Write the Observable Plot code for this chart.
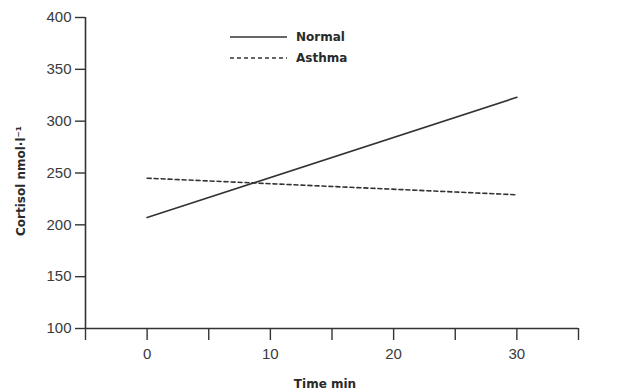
<!DOCTYPE html>
<html>
<head>
<meta charset="utf-8">
<script src="https://cdn.jsdelivr.net/npm/d3@7"></script>
<script src="https://cdn.jsdelivr.net/npm/@observablehq/plot@0.6"></script>
<style>
  html, body { margin: 0; padding: 0; background: #fff; }
  #wrap { position: relative; width: 617px; height: 392px; }
  #legend { position: absolute; left: 230px; top: 26px; font: bold 12px "DejaVu Sans", sans-serif; color: #2a2a2a; }
  #legend .row { display: flex; align-items: center; height: 21px; }
  #legend svg { margin-right: 9px; }
</style>
</head>
<body>
<div id="wrap"></div>
<script>
// Data
const times = [0, 30];
const normal = [207, 323];
const asthma = [245, 229];
const series = ["Normal", "Asthma"];
const xTicks = [-5, 0, 5, 10, 15, 20, 25, 30, 35];
const yTicks = [100, 150, 200, 250, 300, 350, 400];
const xDomain = [-5, 35];
const yDomain = [100, 400];

const rows = [
  ...times.map((t, i) => ({time: t, value: normal[i], group: series[0]})),
  ...times.map((t, i) => ({time: t, value: asthma[i], group: series[1]}))
];

const ink = "#333";
const chart = Plot.plot({
  width: 617,
  height: 392,
  marginLeft: 85,
  marginRight: 39,
  marginTop: 17,
  marginBottom: 64,
  style: {fontFamily: "'Liberation Sans', Arial, sans-serif", background: "#fff", color: ink},
  x: {domain: xDomain},
  y: {domain: yDomain},
  marks: [
    Plot.axisY({ticks: yTicks, tickSize: 10, tickPadding: 4, fontSize: 15, label: null, stroke: ink, strokeWidth: 1.4, fill: "#3a3a3a"}),
    Plot.axisX({ticks: xTicks, tickSize: 12, tickPadding: 8, fontSize: 15, label: null, stroke: ink, strokeWidth: 1.4, fill: "#3a3a3a",
      tickFormat: d => d % 10 === 0 ? String(d) : ""}),
    Plot.ruleX([xDomain[0]], {y1: yDomain[0], y2: yDomain[1], stroke: ink, strokeWidth: 1.6}),
    Plot.ruleY([yDomain[0]], {x1: xDomain[0], x2: xDomain[1], stroke: ink, strokeWidth: 1.6}),
    Plot.line(rows.filter(d => d.group === "Normal"), {x: "time", y: "value", stroke: ink, strokeWidth: 1.6}),
    Plot.line(rows.filter(d => d.group === "Asthma"), {x: "time", y: "value", stroke: ink, strokeWidth: 1.6, strokeDasharray: "4,3"}),
    Plot.text(["Cortisol nmol·l⁻¹"], {frameAnchor: "left", textAnchor: "middle", rotate: -90, dx: -64, dy: 8, fontSize: 12, fontWeight: "bold", fontFamily: "DejaVu Sans", fill: "#2a2a2a"}),
    Plot.text(["Time min"], {frameAnchor: "bottom", textAnchor: "middle", dx: -7, dy: 59, fontSize: 12, fontWeight: "bold", fontFamily: "DejaVu Sans", fill: "#2a2a2a"})
  ]
});
const wrap = document.getElementById("wrap");
wrap.appendChild(chart);

const legend = document.createElement("div");
legend.id = "legend";
legend.innerHTML = series.map((s, i) => `<div class="row"><svg width="57" height="4"><line x1="0" x2="57" y1="2" y2="2" stroke="${ink}" stroke-width="1.6" ${i === 1 ? 'stroke-dasharray="4,3"' : ''}/></svg><span>${s}</span></div>`).join("");
wrap.appendChild(legend);
</script>
</body>
</html>
